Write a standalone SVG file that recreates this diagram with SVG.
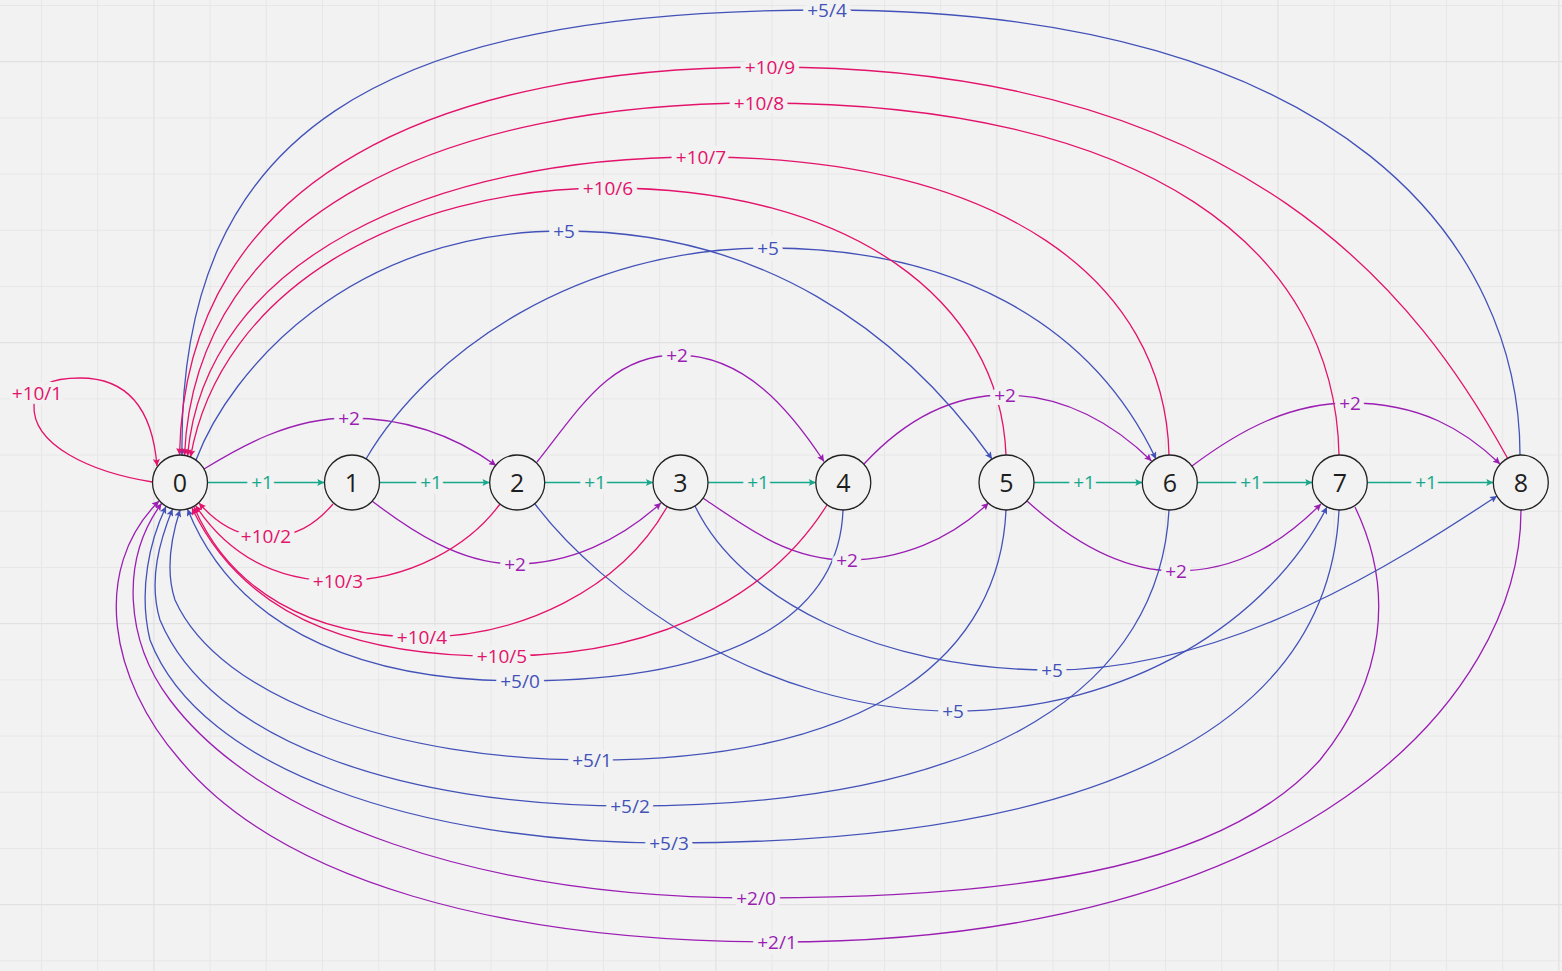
<svg xmlns="http://www.w3.org/2000/svg" width="1562" height="971" viewBox="0 0 1562 971">
  <style>
    .grid { stroke: #e7e7e7; stroke-width: 1; fill: none; }
    .grid-major { stroke: #e1e1e1; stroke-width: 1.2; fill: none; }
    .edge { fill: none; stroke-width: 1.3; }
    .e1 { stroke: #17a88b; }
    .e2 { stroke: #9b1eb3; }
    .e5 { stroke: #4352b8; }
    .e10 { stroke: #e3136b; }
    .lbl { font-family: "Open Sans", "Noto Sans", sans-serif; font-size: 19px; text-anchor: middle;
           stroke: #f2f2f2; stroke-width: 10px; stroke-linejoin: round; paint-order: stroke; }
    .l1 { fill: #17a88b; }
    .l2 { fill: #9b1eb3; }
    .l5 { fill: #4352b8; }
    .l10 { fill: #e3136b; }
    .node circle { fill: #f2f2f2; stroke: #222; stroke-width: 1.3; }
    .node text { font-family: "Open Sans", "Noto Sans", sans-serif; font-size: 25px; fill: #1e1e1e; text-anchor: middle; }
  </style>
  <defs>
    <marker id="arr1" viewBox="0 0 10 10" refX="10" refY="5" markerWidth="8" markerHeight="7" markerUnits="userSpaceOnUse" orient="auto">
      <path d="M0,0 L10,5 L0,10 L2,5 z" fill="#17a88b"/>
    </marker>
    <marker id="arr2" viewBox="0 0 10 10" refX="10" refY="5" markerWidth="8" markerHeight="7" markerUnits="userSpaceOnUse" orient="auto">
      <path d="M0,0 L10,5 L0,10 L2,5 z" fill="#9b1eb3"/>
    </marker>
    <marker id="arr5" viewBox="0 0 10 10" refX="10" refY="5" markerWidth="8" markerHeight="7" markerUnits="userSpaceOnUse" orient="auto">
      <path d="M0,0 L10,5 L0,10 L2,5 z" fill="#4352b8"/>
    </marker>
    <marker id="arr10" viewBox="0 0 10 10" refX="10" refY="5" markerWidth="8" markerHeight="7" markerUnits="userSpaceOnUse" orient="auto">
      <path d="M0,0 L10,5 L0,10 L2,5 z" fill="#e3136b"/>
    </marker>
  </defs>

  <!-- canvas and grid -->
  <rect width="1562" height="971" fill="#f2f2f2"/>
  <path class="grid" d="M41.5,0V971M97.7,0V971M210.1,0V971M266.3,0V971M322.5,0V971M378.7,0V971M491.1,0V971M547.3,0V971M603.5,0V971M659.7,0V971M772.1,0V971M828.3,0V971M884.5,0V971M940.7,0V971M1053.1,0V971M1109.3,0V971M1165.5,0V971M1221.7,0V971M1334.1,0V971M1390.3,0V971M1446.5,0V971M1502.7,0V971
    M0,5.5H1562M0,117.9H1562M0,174.1H1562M0,230.3H1562M0,286.5H1562M0,398.9H1562M0,455.1H1562M0,511.3H1562M0,567.5H1562M0,679.9H1562M0,736.1H1562M0,792.3H1562M0,848.5H1562M0,960.9H1562"/>
  <path class="grid-major" d="M153.9,0V971M434.9,0V971M715.9,0V971M996.9,0V971M1277.9,0V971M1558.9,0V971M0,61.7H1562M0,342.7H1562M0,623.7H1562M0,904.7H1562"/>

  <!-- connectors -->
  <g id="edges">
    <!-- +1 steps -->
    <path class="edge e1" marker-end="url(#arr1)" d="M207.5,482.5H324.3"/>
    <path class="edge e1" marker-end="url(#arr1)" d="M379.5,482.5H489.5"/>
    <path class="edge e1" marker-end="url(#arr1)" d="M544.7,482.5H653"/>
    <path class="edge e1" marker-end="url(#arr1)" d="M708,482.5H815.8"/>
    <path class="edge e1" marker-end="url(#arr1)" d="M1034,482.5H1142.3"/>
    <path class="edge e1" marker-end="url(#arr1)" d="M1197.3,482.5H1312.3"/>
    <path class="edge e1" marker-end="url(#arr1)" d="M1367.3,482.5H1493.3"/>

    <!-- +2 steps -->
    <path class="edge e2" marker-end="url(#arr2)" d="M204,469 C240,447 290,418 349,418 C405,418 455,436 496,465.5"/>
    <path class="edge e2" marker-end="url(#arr2)" d="M372,501 C410,530 460,564 515,564 C570,564 620,540 661,503"/>
    <path class="edge e2" marker-end="url(#arr2)" d="M537,462 C580,408 610,355 677,355 C745,355 790,410 824,461.5"/>
    <path class="edge e2" marker-end="url(#arr2)" d="M703,498 C750,530 790,560 847,560 C900,560 950,540 988.5,503"/>
    <path class="edge e2" marker-end="url(#arr2)" d="M864,464 C900,425 945,395 1005,395 C1065,395 1115,425 1151.5,461"/>
    <path class="edge e2" marker-end="url(#arr2)" d="M1027,501 C1070,540 1120,571 1176,571 C1240,571 1285,540 1321,504"/>
    <path class="edge e2" marker-end="url(#arr2)" d="M1192,466 C1240,430 1290,403 1350,403 C1420,403 1465,430 1500,464"/>
    <path class="edge e2" marker-end="url(#arr2)" d="M1355,507 C1395,590 1385,680 1320,760 C1230,860 1050,898 756,898 C480,898 260,820 170,700 C125,640 120,560 161.5,503.5"/>
    <path class="edge e2" marker-end="url(#arr2)" d="M1521,510 C1521,700 1300,942 777,942 C500,942 280,880 180,760 C110,680 90,570 159,501"/>

    <!-- +5 steps -->
    <path class="edge e5" marker-end="url(#arr5)" d="M196,460 C230,370 350,231 564,231 C760,231 900,330 992,459"/>
    <path class="edge e5" marker-end="url(#arr5)" d="M366,459 C430,350 580,248 768,248 C950,248 1090,320 1156,459"/>
    <path class="edge e5" marker-end="url(#arr5)" d="M535,504 C600,590 760,711 953,711 C1130,711 1270,620 1327,507"/>
    <path class="edge e5" marker-end="url(#arr5)" d="M695,506 C740,600 880,670 1052,670 C1230,670 1400,560 1497,496"/>
    <path class="edge e5" marker-end="url(#arr5)" d="M843,510 C840,600 760,681 520,681 C380,681 240,640 187.5,509"/>
    <path class="edge e5" marker-end="url(#arr5)" d="M1006,510 C1000,650 880,760 592,760 C400,760 220,700 175,600 C165,570 172,535 180,510"/>
    <path class="edge e5" marker-end="url(#arr5)" d="M1169,510 C1160,680 1000,806 630,806 C400,806 210,740 160,620 C148,580 160,540 172.5,509"/>
    <path class="edge e5" marker-end="url(#arr5)" d="M1339,510 C1330,700 1150,843 669,843 C420,843 200,770 150,640 C138,590 150,540 166,506.5"/>
    <path class="edge e5" marker-end="url(#arr5)" d="M1520,455 C1520,250 1350,10 827,10 C380,10 178,130 182,455"/>

    <!-- +10 steps -->
    <path class="edge e10" marker-end="url(#arr10)" d="M152.5,482 C90,472 32,445 34,405 C36,385 50,378 80,378 C125,378 152,405 157,466"/>
    <path class="edge e10" marker-end="url(#arr10)" d="M333,504 C315,525 295,537 266,537 C240,537 218,525 199,503"/>
    <path class="edge e10" marker-end="url(#arr10)" d="M500,504 C470,545 410,581 338,581 C270,581 225,550 195.5,505.5"/>
    <path class="edge e10" marker-end="url(#arr10)" d="M667,507 C620,590 520,637 422,637 C310,637 230,590 194,507"/>
    <path class="edge e10" marker-end="url(#arr10)" d="M827,505 C780,580 680,656 502,656 C380,657 250,630 192,508"/>
    <path class="edge e10" marker-end="url(#arr10)" d="M1006,455 C1000,300 850,188 608,188 C400,188 220,290 190.5,457"/>
    <path class="edge e10" marker-end="url(#arr10)" d="M1169,455 C1165,280 1000,157 701,157 C430,157 205,260 187.5,456"/>
    <path class="edge e10" marker-end="url(#arr10)" d="M1339,455 C1335,250 1150,103 759,103 C450,103 195,210 184.5,455.5"/>
    <path class="edge e10" marker-end="url(#arr10)" d="M1508,459 C1420,300 1250,67 770,67 C450,67 185,170 179.5,455"/>
  </g>

  <!-- connector labels -->
  <g id="edge-labels">
    <text class="lbl l1" x="262" y="489">+1</text>
    <text class="lbl l1" x="431" y="489">+1</text>
    <text class="lbl l1" x="595" y="489">+1</text>
    <text class="lbl l1" x="758" y="489">+1</text>
    <text class="lbl l1" x="1084" y="489">+1</text>
    <text class="lbl l1" x="1251" y="489">+1</text>
    <text class="lbl l1" x="1426" y="489">+1</text>

    <text class="lbl l2" x="349" y="425">+2</text>
    <text class="lbl l2" x="515" y="571">+2</text>
    <text class="lbl l2" x="677" y="362">+2</text>
    <text class="lbl l2" x="847" y="567">+2</text>
    <text class="lbl l2" x="1005" y="402">+2</text>
    <text class="lbl l2" x="1176" y="578">+2</text>
    <text class="lbl l2" x="1350" y="410">+2</text>
    <text class="lbl l2" x="756" y="905">+2/0</text>
    <text class="lbl l2" x="777" y="949">+2/1</text>

    <text class="lbl l5" x="564" y="238">+5</text>
    <text class="lbl l5" x="768" y="255">+5</text>
    <text class="lbl l5" x="953" y="718">+5</text>
    <text class="lbl l5" x="1052" y="677">+5</text>
    <text class="lbl l5" x="520" y="688">+5/0</text>
    <text class="lbl l5" x="592" y="767">+5/1</text>
    <text class="lbl l5" x="630" y="813">+5/2</text>
    <text class="lbl l5" x="669" y="850">+5/3</text>
    <text class="lbl l5" x="827" y="17">+5/4</text>

    <text class="lbl l10" x="37" y="400">+10/1</text>
    <text class="lbl l10" x="266" y="543">+10/2</text>
    <text class="lbl l10" x="338" y="588">+10/3</text>
    <text class="lbl l10" x="422" y="644">+10/4</text>
    <text class="lbl l10" x="502" y="663">+10/5</text>
    <text class="lbl l10" x="608" y="195">+10/6</text>
    <text class="lbl l10" x="701" y="164">+10/7</text>
    <text class="lbl l10" x="759" y="110">+10/8</text>
    <text class="lbl l10" x="770" y="74">+10/9</text>
  </g>

  <!-- states -->
  <g id="node-0" class="node"><circle cx="180" cy="482.5" r="27.5"/><text x="180" y="491.5">0</text></g>
  <g id="node-1" class="node"><circle cx="352" cy="482.5" r="27.5"/><text x="352" y="491.5">1</text></g>
  <g id="node-2" class="node"><circle cx="517.2" cy="482.5" r="27.5"/><text x="517.2" y="491.5">2</text></g>
  <g id="node-3" class="node"><circle cx="680.5" cy="482.5" r="27.5"/><text x="680.5" y="491.5">3</text></g>
  <g id="node-4" class="node"><circle cx="843.3" cy="482.5" r="27.5"/><text x="843.3" y="491.5">4</text></g>
  <g id="node-5" class="node"><circle cx="1006.5" cy="482.5" r="27.5"/><text x="1006.5" y="491.5">5</text></g>
  <g id="node-6" class="node"><circle cx="1169.8" cy="482.5" r="27.5"/><text x="1169.8" y="491.5">6</text></g>
  <g id="node-7" class="node"><circle cx="1339.8" cy="482.5" r="27.5"/><text x="1339.8" y="491.5">7</text></g>
  <g id="node-8" class="node"><circle cx="1520.8" cy="482.5" r="27.5"/><text x="1520.8" y="491.5">8</text></g>
</svg>
